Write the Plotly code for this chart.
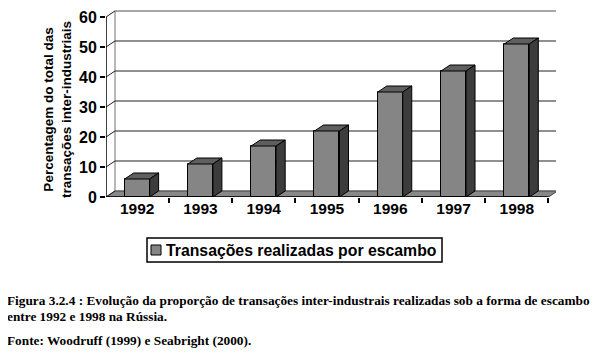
import plotly.graph_objects as go

# ---- data ----
years = ["1992", "1993", "1994", "1995", "1996", "1997", "1998"]
values = [6, 11, 17, 22, 35, 42, 51]
y_ticks = [0, 10, 20, 30, 40, 50, 60]
series_name = "Transações realizadas por escambo"
y_title = "Percentagem do total das<br>transações inter-industriais"
caption1 = "Figura 3.2.4 : Evolução da proporção de transações inter-industrais realizadas sob a forma de escambo"
caption2 = "entre 1992 e 1998 na Rússia."
source = "Fonte: Woodruff (1999) e Seabright (2000)."

# ---- geometry (style) ----
W, H = 608, 356          # page size
OFF = 8                  # default body margin of the page
L, R, T, B = 106, 52, 9, 159   # plot area in page pixels
X0, X1 = -0.492, 6.619
YMAX_AX = (H - T - B) / 3.0
BW = 0.395          # bar width in category units
DX, DY = 0.142, 2.0  # depth offset (x units, y units)
FRONT_R = len(years) - 0.5
YTOP = y_ticks[-1]
FONT = "Arial, Liberation Sans"
SERIF = "Times New Roman, Liberation Serif"

xs = list(range(len(years)))

fig = go.Figure()

pw = W - L - R
ph = H - T - B


def px(xp):
    return (xp - L) / pw


def py(yp):
    return 1 - (yp - T) / ph


shapes = []
# back wall
shapes.append(dict(type="rect", xref="x", yref="y", x0=X0 + DX, x1=FRONT_R + DX,
                   y0=DY, y1=YTOP + DY, line=dict(color="#8a8a8a", width=1.2),
                   fillcolor="white", layer="below"))
# floor
shapes.append(dict(type="path", xref="x", yref="y",
                   path=f"M {X0} 0 L {FRONT_R} 0 L {FRONT_R + DX} {DY} L {X0 + DX} {DY} Z",
                   fillcolor="#888888", line=dict(color="#444444", width=1), layer="below"))
# gridlines + left-side diagonals
for v in y_ticks:
    shapes.append(dict(type="line", xref="x", yref="y", x0=X0, y0=v, x1=X0 + DX, y1=v + DY,
                       line=dict(color="#222222", width=1), layer="below"))
    if 0 < v:
        shapes.append(dict(type="line", xref="x", yref="y", x0=X0 + DX, y0=v + DY,
                           x1=FRONT_R + DX, y1=v + DY,
                           line=dict(color="#222222" if v < YTOP else "#8a8a8a", width=1.2),
                           layer="below"))
# front axis lines
shapes.append(dict(type="line", xref="x", yref="y", x0=X0, y0=0, x1=X0, y1=YTOP,
                   line=dict(color="black", width=1.5), layer="below"))
shapes.append(dict(type="line", xref="x", yref="y", x0=X0, y0=0, x1=FRONT_R, y1=0,
                   line=dict(color="black", width=1.5), layer="below"))

# legend box drawn by hand (tight like the original)
shapes.append(dict(type="rect", xref="paper", yref="paper", x0=px(147), x1=px(442),
                   y0=py(262), y1=py(238), line=dict(color="black", width=1.5), fillcolor="white"))
shapes.append(dict(type="rect", xref="paper", yref="paper", x0=px(151), x1=px(161),
                   y0=py(255), y1=py(245), line=dict(color="black", width=1), fillcolor="#858585"))

# front faces (real bars)
fig.add_trace(go.Bar(x=xs, y=values, width=BW, name=series_name,
                     marker=dict(color="#858585", line=dict(color="black", width=1)),
                     showlegend=False))

# top and side faces
tx, ty = [], []
sx, sy = [], []
for x, v in zip(xs, values):
    a, b = x - BW / 2, x + BW / 2
    tx += [a, b, b + DX, a + DX, a, None]
    ty += [v, v, v + DY, v + DY, v, None]
    sx += [b, b + DX, b + DX, b, b, None]
    sy += [0, DY, v + DY, v, 0, None]
fig.add_trace(go.Scatter(x=tx, y=ty, mode="lines", fill="toself", fillcolor="#5f5f5f",
                         line=dict(color="black", width=1), showlegend=False, hoverinfo="skip"))
fig.add_trace(go.Scatter(x=sx, y=sy, mode="lines", fill="toself", fillcolor="#3c3c3c",
                         line=dict(color="black", width=1), showlegend=False, hoverinfo="skip"))

ann = [
    dict(text=f"<b>{y_title}</b>", x=px(57), y=py(110), xref="paper", yref="paper",
         showarrow=False, textangle=-90, font=dict(family=FONT, size=13.5, color="black"),
         xanchor="center", yanchor="middle"),
    dict(text=f"<b>{series_name}</b>", x=px(164), y=py(250), xref="paper", yref="paper",
         showarrow=False, xanchor="left", yanchor="middle",
         font=dict(family=FONT, size=15.8, color="black")),
    dict(text=f"<b>{caption1}</b>", x=px(5), y=py(300), xref="paper", yref="paper",
         showarrow=False, xanchor="left", yanchor="middle",
         font=dict(family=SERIF, size=13.3, color="black")),
    dict(text=f"<b>{caption2}</b>", x=px(5), y=py(316), xref="paper", yref="paper",
         showarrow=False, xanchor="left", yanchor="middle",
         font=dict(family=SERIF, size=13.3, color="black")),
    dict(text=f"<b>{source}</b>", x=px(5), y=py(340), xref="paper", yref="paper",
         showarrow=False, xanchor="left", yanchor="middle",
         font=dict(family=SERIF, size=13.3, color="black")),
]

fig.update_layout(
    width=W - OFF, height=H - OFF,
    margin=dict(l=L - OFF, r=R, t=T - OFF, b=B, pad=0, autoexpand=False),
    paper_bgcolor="white", plot_bgcolor="white",
    shapes=shapes, annotations=ann,
    showlegend=False,
    xaxis=dict(range=[X0, X1], tickmode="array", tickvals=xs,
               ticktext=[f"<b>{y}</b>" for y in years], showgrid=False, zeroline=False,
               showline=False, ticks="", tickfont=dict(family=FONT, size=15.5, color="black"),
               minor=dict(tickmode="array", tickvals=[i - 0.5 for i in range(len(years) + 1)],
                          ticks="outside", ticklen=5, tickcolor="black", tickwidth=1.5, showgrid=False)),
    yaxis=dict(range=[0, YMAX_AX], tickmode="array", tickvals=y_ticks,
               ticktext=[f"<b>{v}</b>" for v in y_ticks], showgrid=False, zeroline=False,
               showline=False, ticks="outside", ticklen=5, tickcolor="black", tickwidth=1.5,
               tickfont=dict(family=FONT, size=16, color="black")),
    bargap=0,
)

fig.write_html("out.html")
